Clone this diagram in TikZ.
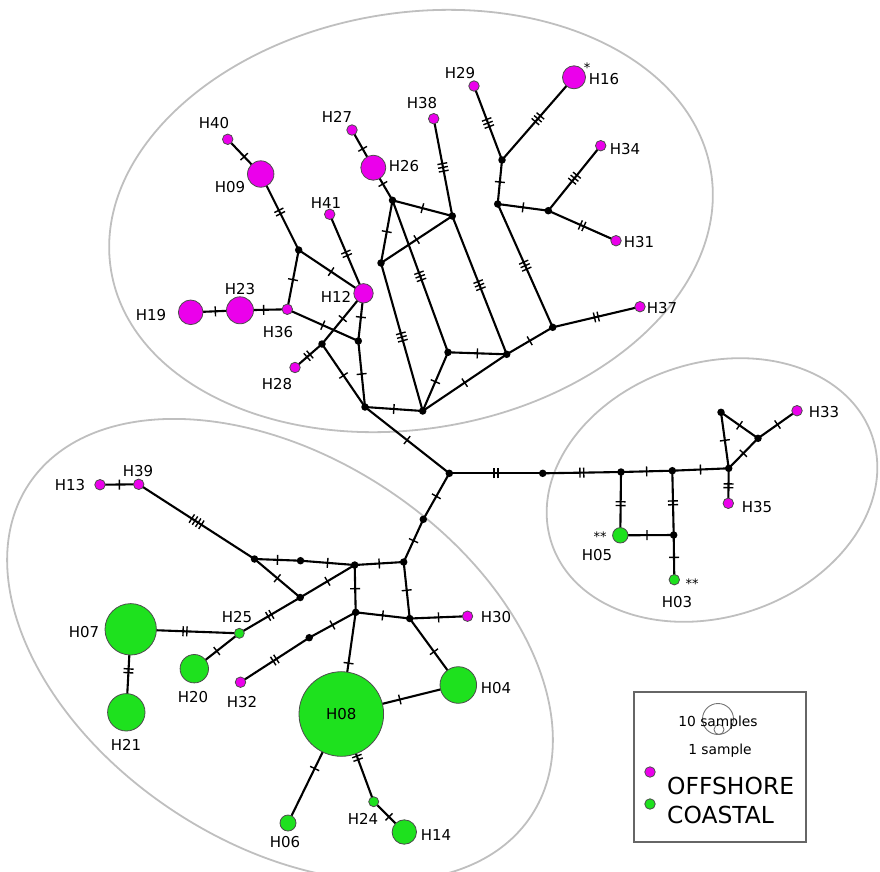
\documentclass[tikz,border=0pt]{standalone}
\usepackage{fontspec}
\setmainfont{DejaVu Sans}
\usetikzlibrary{decorations.markings, backgrounds}
\definecolor{offcol}{RGB}{235,0,235}
\definecolor{coastcol}{RGB}{30,225,30}

\begin{document}
\begin{tikzpicture}[x=1pt, y=-1pt,
      lab/.style={font=\fontsize{15}{18}\selectfont, inner sep=0pt},
      star/.style={font=\fontsize{13}{15}\selectfont, inner sep=0pt},
      offshore/.style={circle, draw=black!70, line width=0.8pt, fill=offcol, inner sep=0pt, minimum size=#1},
      offshore/.default=10.5pt,
      coastal/.style={circle, draw=black!70, line width=0.8pt, fill=coastcol, inner sep=0pt, minimum size=#1},
      coastal/.default=10.5pt,
      mv/.style={circle, fill=black, inner sep=0pt, minimum size=7.5pt},
      edge/.style={line width=2.1pt},
      mut/.style={postaction={decorate, decoration={markings, mark=at position 0.5 with {
          \foreach \k in {1,...,#1} \draw[line width=1.4pt] ({(\k-(#1+1)/2)*3.8pt},-5pt) -- ++(0,10pt);}}}},
      zone/.style={draw=black!25, line width=1.8pt}]

      \useasboundingbox (0,0) rectangle (880,871);

      % Haplotypes, offshore
      \node[offshore] (h40) at (227.7,139.3) {};
      \node[offshore=26.4pt] (h09) at (260.7,174) {};
      \node[offshore] (h27) at (352,130) {};
      \node[offshore=25pt] (h26) at (373.3,167.7) {};
      \node[offshore] (h41) at (329.7,214.3) {};
      \node[offshore] (h38) at (433.7,118.7) {};
      \node[offshore] (h29) at (474,86) {};
      \node[offshore=23pt] (h16) at (574,77.3) {};
      \node[offshore] (h34) at (600.7,145.7) {};
      \node[offshore] (h31) at (616,240.7) {};
      \node[offshore] (h37) at (640,306.7) {};
      \node[offshore=19.4pt] (h12) at (363.5,293.3) {};
      \node[offshore] (h36) at (287.3,309.3) {};
      \node[offshore=27pt] (h23) at (240,310.3) {};
      \node[offshore=24.6pt] (h19) at (190.7,312.3) {};
      \node[offshore] (h28) at (295,367.5) {};
      \node[offshore] (h33) at (797,410.7) {};
      \node[offshore] (h35) at (728.3,503.3) {};
      \node[offshore] (h13) at (100,484.7) {};
      \node[offshore] (h39) at (138.7,484.3) {};
      \node[offshore] (h30) at (467.5,616.2) {};
      \node[offshore] (h32) at (240.5,682.2) {};

      % Haplotypes, coastal
      \node[coastal=15.4pt] (h05) at (620.3,535.3) {};
      \node[coastal] (h03) at (674.3,579.7) {};
      \node[coastal=10pt] (h25) at (239.3,633.3) {};
      \node[coastal=51.4pt] (h07) at (130.7,629.3) {};
      \node[coastal=37.4pt] (h21) at (126.3,712.3) {};
      \node[coastal=28.4pt] (h20) at (194.3,668.7) {};
      \node[coastal=84.6pt, lab] (h08) at (341.3,714) {H08};
      \node[coastal=36.6pt] (h04) at (458.3,685) {};
      \node[coastal=16pt] (h06) at (288,823) {};
      \node[coastal=10pt] (h24) at (373.7,801.7) {};
      \node[coastal=24.4pt] (h14) at (404.3,832) {};

      % Median vectors
      \foreach \i/\x/\y in {1/298.7/250, 2/358.3/341, 3/322/344, 4/365/407, 5/422.7/411,
          6/392.5/200.3, 7/452.3/216, 8/381/263, 9/448/352.3, 10/502/160, 11/497.7/204,
          12/548.3/210.7, 13/552.7/327.3, 14/506.7/354.3, 15/449.3/473.3, 16/542.7/473.3,
          17/621/472, 18/672.3/470.7, 19/728.7/468.3, 20/721/412.3, 21/758/438.3,
          22/673.7/535, 23/423.3/519.3, 24/403.7/562, 25/254.5/559, 26/300.5/560.7,
          27/354.7/565, 28/300.2/597.5, 29/355.7/612.3, 30/409.7/618.5, 31/309.2/637.7}
        \node[mv] (mv\i) at (\x,\y) {};

      % Labels
      \foreach \n/\x/\y in {40/214/123, 09/230/187, 27/337/117, 26/404/166, 41/326/203,
          38/422/103, 29/460/73, 16/604/79, 34/625/149, 31/639/242, 37/662/308,
          23/240/289, 19/151/315, 36/278/332, 12/336/297, 28/277/384, 33/824/412,
          35/757/507, 05/597/555, 03/677/602, 13/70/485, 39/138/471, 07/84/632,
          25/237/617, 20/193/697, 32/242/702, 21/126/745, 30/496/617, 04/496/688,
          06/285/842, 24/363/819, 14/436/835}
        \node[lab] (t\n) at (\x,\y) {H\n};
      \node[star] (s16) at (587,68) {*};
      \node[star] (s05) at (600,537) {**};
      \node[star] (s03) at (692,584) {**};

      % Legend
      \node[draw=black!60, line width=1.3pt, minimum width=172pt, minimum height=150pt] (legend) at (720,767) {};
      \node[circle, draw=black!55, line width=0.9pt, minimum size=31pt, inner sep=0pt] (big) at (718,719) {};
      \node[circle, draw=black!55, line width=0.9pt, minimum size=10pt, inner sep=0pt] (small) at (719,729.5) {};
      \node[font=\fontsize{13.8}{16}\selectfont, inner sep=0pt, anchor=base] (ten) at (718,726.7) {10 samples};
      \node[font=\fontsize{13.8}{16}\selectfont, inner sep=0pt, anchor=base] (one) at (720,754) {1 sample};
      \node[offshore] (keyoff) at (650,772) {};
      \node[coastal] (keycoast) at (650,804) {};
      \node[font=\fontsize{23.4}{28}\selectfont, inner sep=0pt, anchor=west] (offtxt) at (667,786) {OFFSHORE};
      \node[font=\fontsize{23.4}{28}\selectfont, inner sep=0pt, anchor=west] (coasttxt) at (667,815) {COASTAL};

      \begin{pgfonlayer}{background}
        % Groups
        \draw[zone, rotate around={9.4:(411,221)}] (411,221) ellipse [x radius=304, y radius=208];
        \draw[zone, rotate around={18.4:(712,490)}] (712,490) ellipse [x radius=169, y radius=127];
        \draw[zone, rotate around={-33.4:(280,650)}] (280,650) ellipse [x radius=301, y radius=193];

        % Connections with mutation ticks
        \foreach \a/\b/\n in {h40/h09/1, h09/mv1/2, mv1/h36/1, mv1/h12/1, h41/h12/2, h19/h23/1,
            h23/h36/1, h36/mv2/1, h12/mv2/1, h12/mv3/1, mv3/h28/2, mv3/mv4/1, mv2/mv4/1,
            mv4/mv5/1, mv4/mv15/1, h27/h26/1, h26/mv6/1, mv6/mv7/1, mv6/mv8/1, mv8/mv7/1,
            mv6/mv9/3, mv8/mv5/3, mv7/h38/3, mv7/mv14/3, mv5/mv9/1, mv5/mv14/1, mv9/mv14/1,
            mv14/mv13/1, mv13/h37/2, mv11/mv13/3, mv10/mv11/1, mv11/mv12/1, mv12/h34/3,
            mv12/h31/2, mv10/h29/3, mv10/h16/3,
            mv15/mv16/2, mv16/mv17/2, mv17/mv18/1, mv18/mv19/1, mv19/mv20/1, mv20/mv21/1,
            mv19/mv21/1, mv21/h33/1, mv19/h35/2, mv17/h05/2, mv18/mv22/2, h05/mv22/1, mv22/h03/1,
            mv15/mv23/1, mv23/mv24/1, mv25/mv26/1, mv26/mv27/1, mv27/mv24/1, mv25/mv28/1,
            mv28/mv27/1, mv28/h25/2, h25/h20/1, h07/h25/2, h07/h21/2, h13/h39/1, h39/mv25/4,
            mv27/mv29/1, mv24/mv30/1, mv29/mv30/1, mv30/h30/1, h32/mv31/2, mv31/mv29/1,
            mv29/h08/1, mv30/h04/1, h08/h04/1, h08/h06/1, h08/h24/2, h24/h14/1}
          \draw[edge, mut=\n] (\a.center) -- (\b.center);
      \end{pgfonlayer}
    \end{tikzpicture}
\end{document}
